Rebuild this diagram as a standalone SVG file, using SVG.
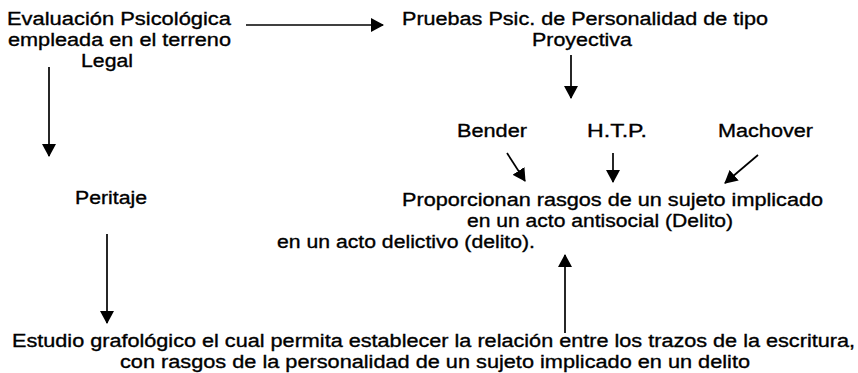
<svg xmlns="http://www.w3.org/2000/svg" width="858" height="373" viewBox="0 0 858 373">
<style>
text{font-family:"Liberation Sans",Arial,sans-serif;font-size:18.8px;fill:#000;stroke:#000;stroke-width:0.35}
.c{stroke:#000;stroke-width:1.7;fill:none;marker-end:url(#ah)}
</style>
<defs>
<marker id="ah" viewBox="0 0 13 14" refX="12" refY="7" markerWidth="13" markerHeight="14" markerUnits="userSpaceOnUse" orient="auto">
<path d="M0,0 L13,7 L0,14 z" fill="#000"/>
</marker>
</defs>
<rect width="858" height="373" fill="#fff"/>
<g id="evaluacion">
<text x="7" y="25" textLength="224" lengthAdjust="spacingAndGlyphs">Evaluación Psicológica</text>
<text x="8" y="46" textLength="223" lengthAdjust="spacingAndGlyphs">empleada en el terreno</text>
<text x="81" y="67" textLength="52" lengthAdjust="spacingAndGlyphs">Legal</text>
</g>
<g id="pruebas">
<text x="402" y="25" textLength="366" lengthAdjust="spacingAndGlyphs">Pruebas Psic. de Personalidad de tipo</text>
<text x="532" y="46" textLength="100" lengthAdjust="spacingAndGlyphs">Proyectiva</text>
</g>
<g id="bender"><text x="457" y="137" textLength="70" lengthAdjust="spacingAndGlyphs">Bender</text></g>
<g id="htp"><text x="587" y="137" textLength="60" lengthAdjust="spacingAndGlyphs">H.T.P.</text></g>
<g id="machover"><text x="718" y="137" textLength="95" lengthAdjust="spacingAndGlyphs">Machover</text></g>
<g id="proporcionan">
<text x="402" y="206" textLength="421" lengthAdjust="spacingAndGlyphs">Proporcionan rasgos de un sujeto implicado</text>
<text x="467" y="227" textLength="266" lengthAdjust="spacingAndGlyphs">en un acto antisocial (Delito)</text>
<text x="277" y="248" textLength="258" lengthAdjust="spacingAndGlyphs">en un acto delictivo (delito).</text>
</g>
<g id="peritaje"><text x="75" y="204" textLength="72" lengthAdjust="spacingAndGlyphs">Peritaje</text></g>
<g id="estudio">
<text x="12" y="347" textLength="843" lengthAdjust="spacingAndGlyphs">Estudio grafológico el cual permita establecer la relación entre los trazos de la escritura,</text>
<text x="120" y="368" textLength="630" lengthAdjust="spacingAndGlyphs">con rasgos de la personalidad de un sujeto implicado en un delito</text>
</g>
<g id="connectors">
<line class="c" x1="246" y1="25" x2="383" y2="25"/>
<line class="c" x1="49" y1="67" x2="49" y2="156"/>
<line class="c" x1="571" y1="55" x2="571" y2="98"/>
<line class="c" x1="507" y1="153" x2="525" y2="181"/>
<line class="c" x1="613" y1="153" x2="613" y2="182"/>
<line class="c" x1="758" y1="155" x2="725" y2="183"/>
<line class="c" x1="107" y1="234" x2="107" y2="323"/>
<line class="c" x1="565" y1="333" x2="565" y2="255"/>
</g>
</svg>
